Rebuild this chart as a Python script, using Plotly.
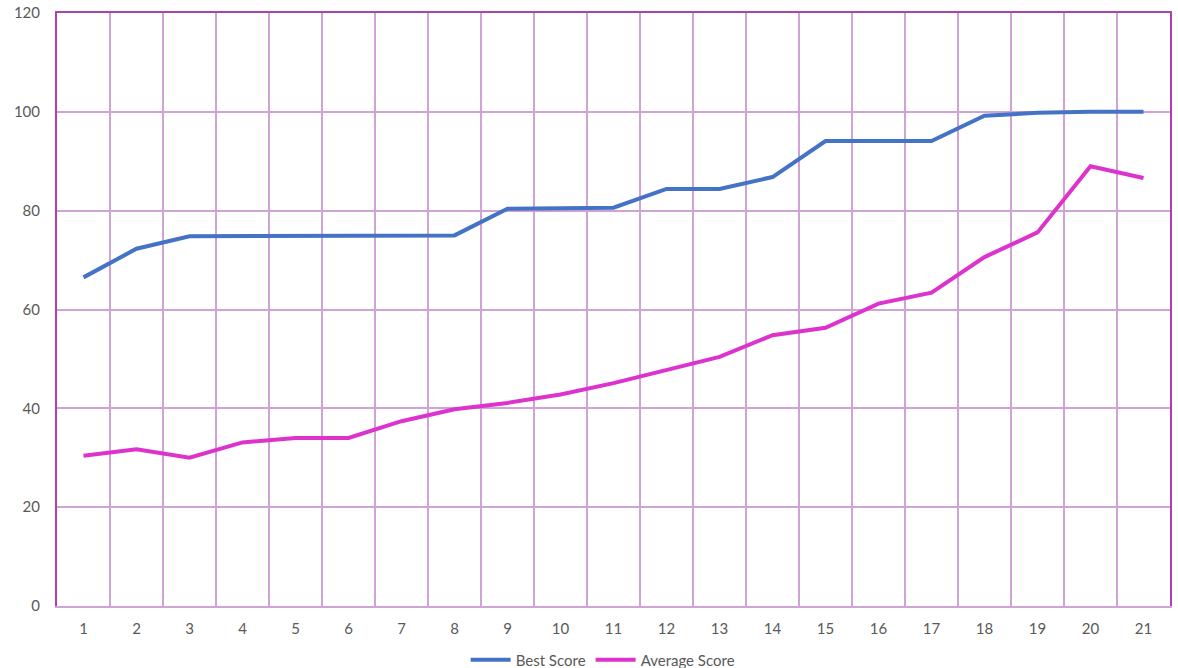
import plotly.graph_objects as go

generations = list(range(1, 22))
best_score = [66.5, 72.3, 74.8, 74.8, 74.8, 74.8, 75.0, 75.0, 80.4, 80.6, 80.6,
              84.4, 84.4, 86.8, 94.1, 94.1, 94.1, 99.2, 99.8, 100.0, 100.0]
average_score = [30.4, 31.7, 30.0, 33.1, 34.0, 34.0, 37.4, 39.8, 41.1, 42.8, 45.1,
                 47.7, 50.4, 54.8, 56.3, 61.2, 63.4, 70.6, 75.6, 89.0, 86.6]
y_ticks = [0, 20, 40, 60, 80, 100, 120]

grid_col = "#CFA3D6"
font = dict(family="Lato, 'Open Sans', sans-serif", size=15, color="#595959")

fig = go.Figure()
fig.add_trace(go.Scatter(x=generations, y=best_score, mode="lines", name="Best Score",
                         line=dict(color="#4472C4", width=4)))
fig.add_trace(go.Scatter(x=generations, y=average_score, mode="lines", name="Average Score",
                         line=dict(color="#DD33CC", width=4)))

fig.update_layout(
    width=1178, height=668,
    margin=dict(l=57, r=8, t=13, b=62, autoexpand=False),
    paper_bgcolor="white", plot_bgcolor="white",
    font=font,
    showlegend=True,
    legend=dict(orientation="h", x=0.512, xanchor="center", xref="container",
                y=0.012, yanchor="middle", yref="container",
                font=font, itemwidth=40, tracegroupgap=0),
    xaxis=dict(range=[0.5, 21.5], tickmode="array", tickvals=generations,
               ticktext=[str(g) for g in generations], showgrid=False,
               showline=True, linecolor=grid_col, linewidth=1.5, ticks="",
               zeroline=False, ticklabelstandoff=8,
               minor=dict(tick0=0.5, dtick=1, showgrid=True, gridcolor=grid_col, gridwidth=1.5)),
    xaxis2=dict(overlaying="x", side="top", range=[0.5, 21.5], showline=True,
                linecolor="#A744A7", linewidth=2, showticklabels=False, showgrid=False,
                ticks="", zeroline=False),
    yaxis=dict(range=[0, 120], tickvals=y_ticks, showgrid=True, gridcolor=grid_col,
               gridwidth=1.5, showline=True, linecolor="#B53AB5", linewidth=2, mirror=True,
               ticks="", zeroline=False, ticklabelstandoff=12),
)
fig.add_trace(go.Scatter(x=[generations[0]], y=[best_score[0]], xaxis="x2", mode="markers",
                         marker=dict(opacity=0), showlegend=False, hoverinfo="skip"))

fig.write_html("out.html")
